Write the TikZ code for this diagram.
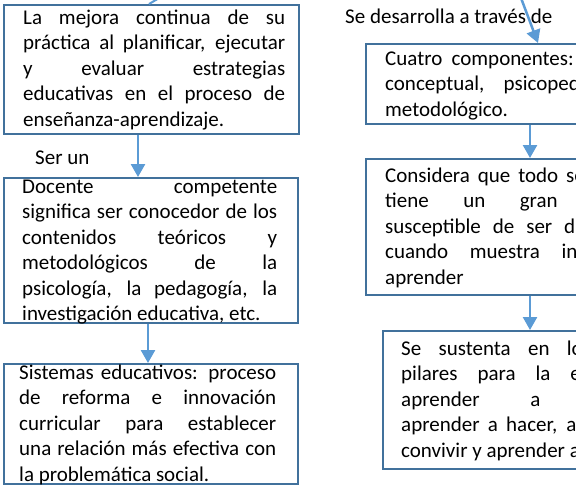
\documentclass[tikz,border=0pt]{standalone}
\usepackage{fontspec}
\setmainfont{Carlito}
\usetikzlibrary{arrows.meta,calc}
\definecolor{boxblue}{HTML}{41719C}
\definecolor{arrblue}{HTML}{5B9BD5}
\newcommand{\jl}[1]{\makebox[\linewidth][s]{#1}\\}
\newcommand{\txt}[2]{\parbox[t]{#1}{\fontsize{21}{25.5}\selectfont\raggedright #2}}
\tikzset{
  boxnode/.style={draw=boxblue, line width=2pt, rectangle, inner sep=0pt, anchor=north west},
  txtnode/.style={anchor=base west, inner sep=0pt, text=black},
  arr/.style={draw=arrblue, line width=2.5pt, -{Triangle[length=13pt,width=14pt]}},
  lbl/.style={anchor=base west, inner sep=0pt, font=\fontsize{21}{25.5}\selectfont},
}
\begin{document}
\begin{tikzpicture}[x=1pt,y=-1pt]
\useasboundingbox (0,0) rectangle (576,490);
\clip (0,0) rectangle (576,490);
% boxes
\node[boxnode, minimum width=295pt, minimum height=129pt] (b1) at (3,4) {};
\node[boxnode, minimum width=294pt, minimum height=145pt] (b2) at (3,177) {};
\node[boxnode, minimum width=294pt, minimum height=120pt] (b3) at (3,363) {};
\node[boxnode, minimum width=320pt, minimum height=80pt] (b4) at (365,43) {};
\node[boxnode, minimum width=320pt, minimum height=136pt] (b5) at (365,158) {};
\node[boxnode, minimum width=300pt, minimum height=138pt] (b6) at (382,330) {};
% texts
\node[txtnode] (t1) at (23,24) {\txt{262pt}{%
\jl{La mejora continua de su}
\jl{práctica al planificar, ejecutar}
\jl{y evaluar estrategias}
\jl{educativas en el proceso de}
enseñanza-aprendizaje.}};
\node[txtnode] (t2) at (22,193) {\txt{255pt}{%
\jl{Docente competente}
\jl{significa ser conocedor de los}
\jl{contenidos teóricos y}
\jl{metodológicos de la}
\jl{psicología, la pedagogía, la}
investigación educativa, etc.}};
\node[txtnode] (t3) at (19,379) {\txt{257pt}{%
\jl{Sistemas educativos: proceso}
\jl{de reforma e innovación}
\jl{curricular para establecer}
\jl{una relación más efectiva con}
la problemática social.}};
\node[txtnode] (t4) at (385,65) {\txt{286pt}{%
\jl{Cuatro componentes: filosófico,}
\jl{conceptual, psicopedagógico y}
metodológico.}};
\node[txtnode] (t5) at (385,182) {\txt{286pt}{%
\jl{Considera que todo ser humano}
\jl{tiene un gran potencial}
\jl{susceptible de ser desarrollado}
\jl{cuando muestra interés por}
aprender}};
\node[txtnode] (t6) at (401,355) {\txt{262pt}{%
\jl{Se sustenta en los cuatro}
\jl{pilares para la educación:}
\jl{aprender a conocer,}
\jl{aprender a hacer, aprender a}
convivir y aprender a ser.}};
% labels
\node[lbl] (l1) at (35,164) {Ser un};
\node[lbl] (l2) at (345,23) {Se desarrolla a través de};
% connectors
\coordinate (c0) at (166,-6);
\coordinate (c1) at (521,-2);
\draw[draw=arrblue, line width=2pt] ($(b1.north west)+(146,0)$) -- (c0);
\draw[arr] (c1) -- ($(b4.north west)+(173,0)$);
\draw[arr] ($(b1.south west)+(135,0)$) -- ($(b2.north west)+(135,0)$);
\draw[arr] ($(b2.south west)+(145,0)$) -- ($(b3.north west)+(145,0)$);
\draw[arr] ($(b4.south west)+(165,0)$) -- ($(b5.north west)+(165,0)$);
\draw[arr] ($(b5.south west)+(165,0)$) -- ($(b6.north west)+(148,0)$);
\end{tikzpicture}
\end{document}
